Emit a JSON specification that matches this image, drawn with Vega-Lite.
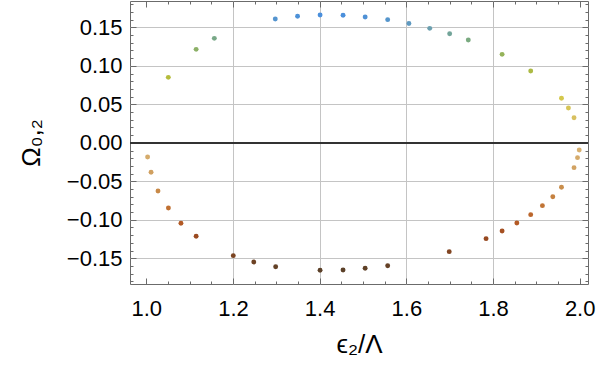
{
  "$schema": "https://vega.github.io/schema/vega-lite/v6.json",
  "width": 458,
  "height": 283,
  "autosize": {"type": "none"},
  "padding": {"left": 130, "top": 1, "right": 12, "bottom": 83},
  "background": "white",
  "config": {
    "view": {"stroke": "#6b6b6b", "strokeWidth": 1},
    "axis": {"labelFont": "Liberation Sans", "titleFont": "Liberation Sans", "labelColor": "black", "titleColor": "black", "domain": false, "tickColor": "#6b6b6b", "labelFontSize": 22, "titleFontSize": 26, "titleFontWeight": "normal"}
  },
  "data": {"values": [
    {"x": 1.0508, "y": 0.085}, {"x": 1.115, "y": 0.1214}, {"x": 1.157, "y": 0.1357},
    {"x": 1.2976, "y": 0.1608}, {"x": 1.349, "y": 0.1643}, {"x": 1.401, "y": 0.166},
    {"x": 1.454, "y": 0.1656}, {"x": 1.505, "y": 0.1634}, {"x": 1.557, "y": 0.160},
    {"x": 1.606, "y": 0.155}, {"x": 1.654, "y": 0.1487}, {"x": 1.700, "y": 0.1417},
    {"x": 1.743, "y": 0.1335}, {"x": 1.821, "y": 0.1149}, {"x": 1.887, "y": 0.0932},
    {"x": 1.958, "y": 0.0578}, {"x": 1.974, "y": 0.0452}, {"x": 1.987, "y": 0.0326},
    {"x": 1.003, "y": -0.0184}, {"x": 1.011, "y": -0.0383}, {"x": 1.027, "y": -0.0626},
    {"x": 1.051, "y": -0.0847}, {"x": 1.080, "y": -0.1045}, {"x": 1.115, "y": -0.1214},
    {"x": 1.2007, "y": -0.1466}, {"x": 1.248, "y": -0.1548}, {"x": 1.2985, "y": -0.1609},
    {"x": 1.401, "y": -0.1656}, {"x": 1.454, "y": -0.1652}, {"x": 1.505, "y": -0.163},
    {"x": 1.557, "y": -0.1596}, {"x": 1.699, "y": -0.1414}, {"x": 1.784, "y": -0.1245},
    {"x": 1.821, "y": -0.1145}, {"x": 1.855, "y": -0.1042}, {"x": 1.887, "y": -0.0933},
    {"x": 1.914, "y": -0.0816}, {"x": 1.938, "y": -0.070}, {"x": 1.958, "y": -0.0578},
    {"x": 1.987, "y": -0.0323}, {"x": 1.995, "y": -0.0193}, {"x": 1.999, "y": -0.0094}
  ]},
  "resolve": {"axis": {"x": "independent", "y": "independent"}},
  "layer": [
    {
      "mark": {"type": "point", "opacity": 0},
      "encoding": {
        "x": {"field": "x", "type": "quantitative", "scale": {"domain": [0.9624, 2.0192], "nice": false, "zero": false},
              "axis": {"orient": "bottom", "values": [1.2, 1.4, 1.6, 1.8], "grid": true, "gridColor": "#c4c4c4", "gridWidth": 1, "ticks": false, "labels": false, "title": null}},
        "y": {"field": "y", "type": "quantitative", "scale": {"domain": [-0.1834, 0.1842], "nice": false, "zero": false},
              "axis": {"orient": "left", "values": [-0.15, -0.1, -0.05, 0.05, 0.1, 0.15], "grid": true, "gridColor": "#c4c4c4", "gridWidth": 1, "ticks": false, "labels": false, "title": null}}
      }
    },
    {
      "mark": {"type": "rule", "color": "#333333", "strokeWidth": 1},
      "encoding": {"y": {"datum": 0, "type": "quantitative", "axis": null}}
    },
    {
      "mark": {"type": "point", "opacity": 0},
      "encoding": {
        "x": {"field": "x", "type": "quantitative", "axis": {"orient": "bottom", "values": [1.05, 1.1, 1.15, 1.25, 1.3, 1.35, 1.45, 1.5, 1.55, 1.65, 1.7, 1.75, 1.85, 1.9, 1.95], "tickSize": -3, "labels": false, "grid": false, "title": null}},
        "y": {"field": "y", "type": "quantitative", "axis": {"orient": "left", "values": [-0.18, -0.17, -0.16, -0.14, -0.13, -0.12, -0.11, -0.09, -0.08, -0.07, -0.06, -0.04, -0.03, -0.02, -0.01, 0.01, 0.02, 0.03, 0.04, 0.06, 0.07, 0.08, 0.09, 0.11, 0.12, 0.13, 0.14, 0.16, 0.17, 0.18], "tickSize": -3, "labels": false, "grid": false, "title": null}}
      }
    },
    {
      "mark": {"type": "point", "opacity": 0},
      "encoding": {
        "x": {"field": "x", "type": "quantitative", "axis": {"orient": "top", "values": [1.05, 1.1, 1.15, 1.25, 1.3, 1.35, 1.45, 1.5, 1.55, 1.65, 1.7, 1.75, 1.85, 1.9, 1.95], "tickSize": -3, "labels": false, "grid": false, "title": null}},
        "y": {"field": "y", "type": "quantitative", "axis": {"orient": "right", "values": [-0.18, -0.17, -0.16, -0.14, -0.13, -0.12, -0.11, -0.09, -0.08, -0.07, -0.06, -0.04, -0.03, -0.02, -0.01, 0.01, 0.02, 0.03, 0.04, 0.06, 0.07, 0.08, 0.09, 0.11, 0.12, 0.13, 0.14, 0.16, 0.17, 0.18], "tickSize": -3, "labels": false, "grid": false, "title": null}}
      }
    },
    {
      "mark": {"type": "point", "opacity": 0},
      "encoding": {
        "x": {"field": "x", "type": "quantitative", "axis": {"orient": "top", "values": [1.0, 1.2, 1.4, 1.6, 1.8, 2.0], "tickSize": -6, "labels": false, "grid": false, "title": null}},
        "y": {"field": "y", "type": "quantitative", "axis": {"orient": "right", "values": [-0.15, -0.1, -0.05, 0, 0.05, 0.1, 0.15], "tickSize": -6, "labels": false, "grid": false, "title": null}}
      }
    },
    {
      "mark": {"type": "circle", "size": 24, "opacity": 1},
      "encoding": {
        "x": {"field": "x", "type": "quantitative", "axis": {"orient": "bottom", "values": [1.0, 1.2, 1.4, 1.6, 1.8, 2.0], "format": ".1f", "tickSize": -6, "labelPadding": 20, "grid": false, "title": "ϵ₂/Λ", "titlePadding": 12}},
        "y": {"field": "y", "type": "quantitative", "axis": {"orient": "left", "values": [-0.15, -0.1, -0.05, 0, 0.05, 0.1, 0.15], "format": ".2f", "tickSize": -6, "labelPadding": 14, "grid": false, "title": "Ω₀,₂", "titlePadding": 22}},
        "color": {"field": "y", "type": "quantitative", "legend": null,
          "scale": {"domain": [-0.166, -0.147, -0.121, -0.104, -0.085, -0.062, -0.038, -0.009, 0.033, 0.058, 0.085, 0.115, 0.1335, 0.149, 0.166],
                    "range": ["#5a4028", "#7a4422", "#9c4a20", "#b45a25", "#c07032", "#c88a48", "#d0a060", "#d8b070", "#d8c060", "#d4c84c", "#b5bc3c", "#95b35a", "#7aaa80", "#6a9fb0", "#4a8fdc"],
                    "interpolate": "rgb"}}
      }
    }
  ]
}
